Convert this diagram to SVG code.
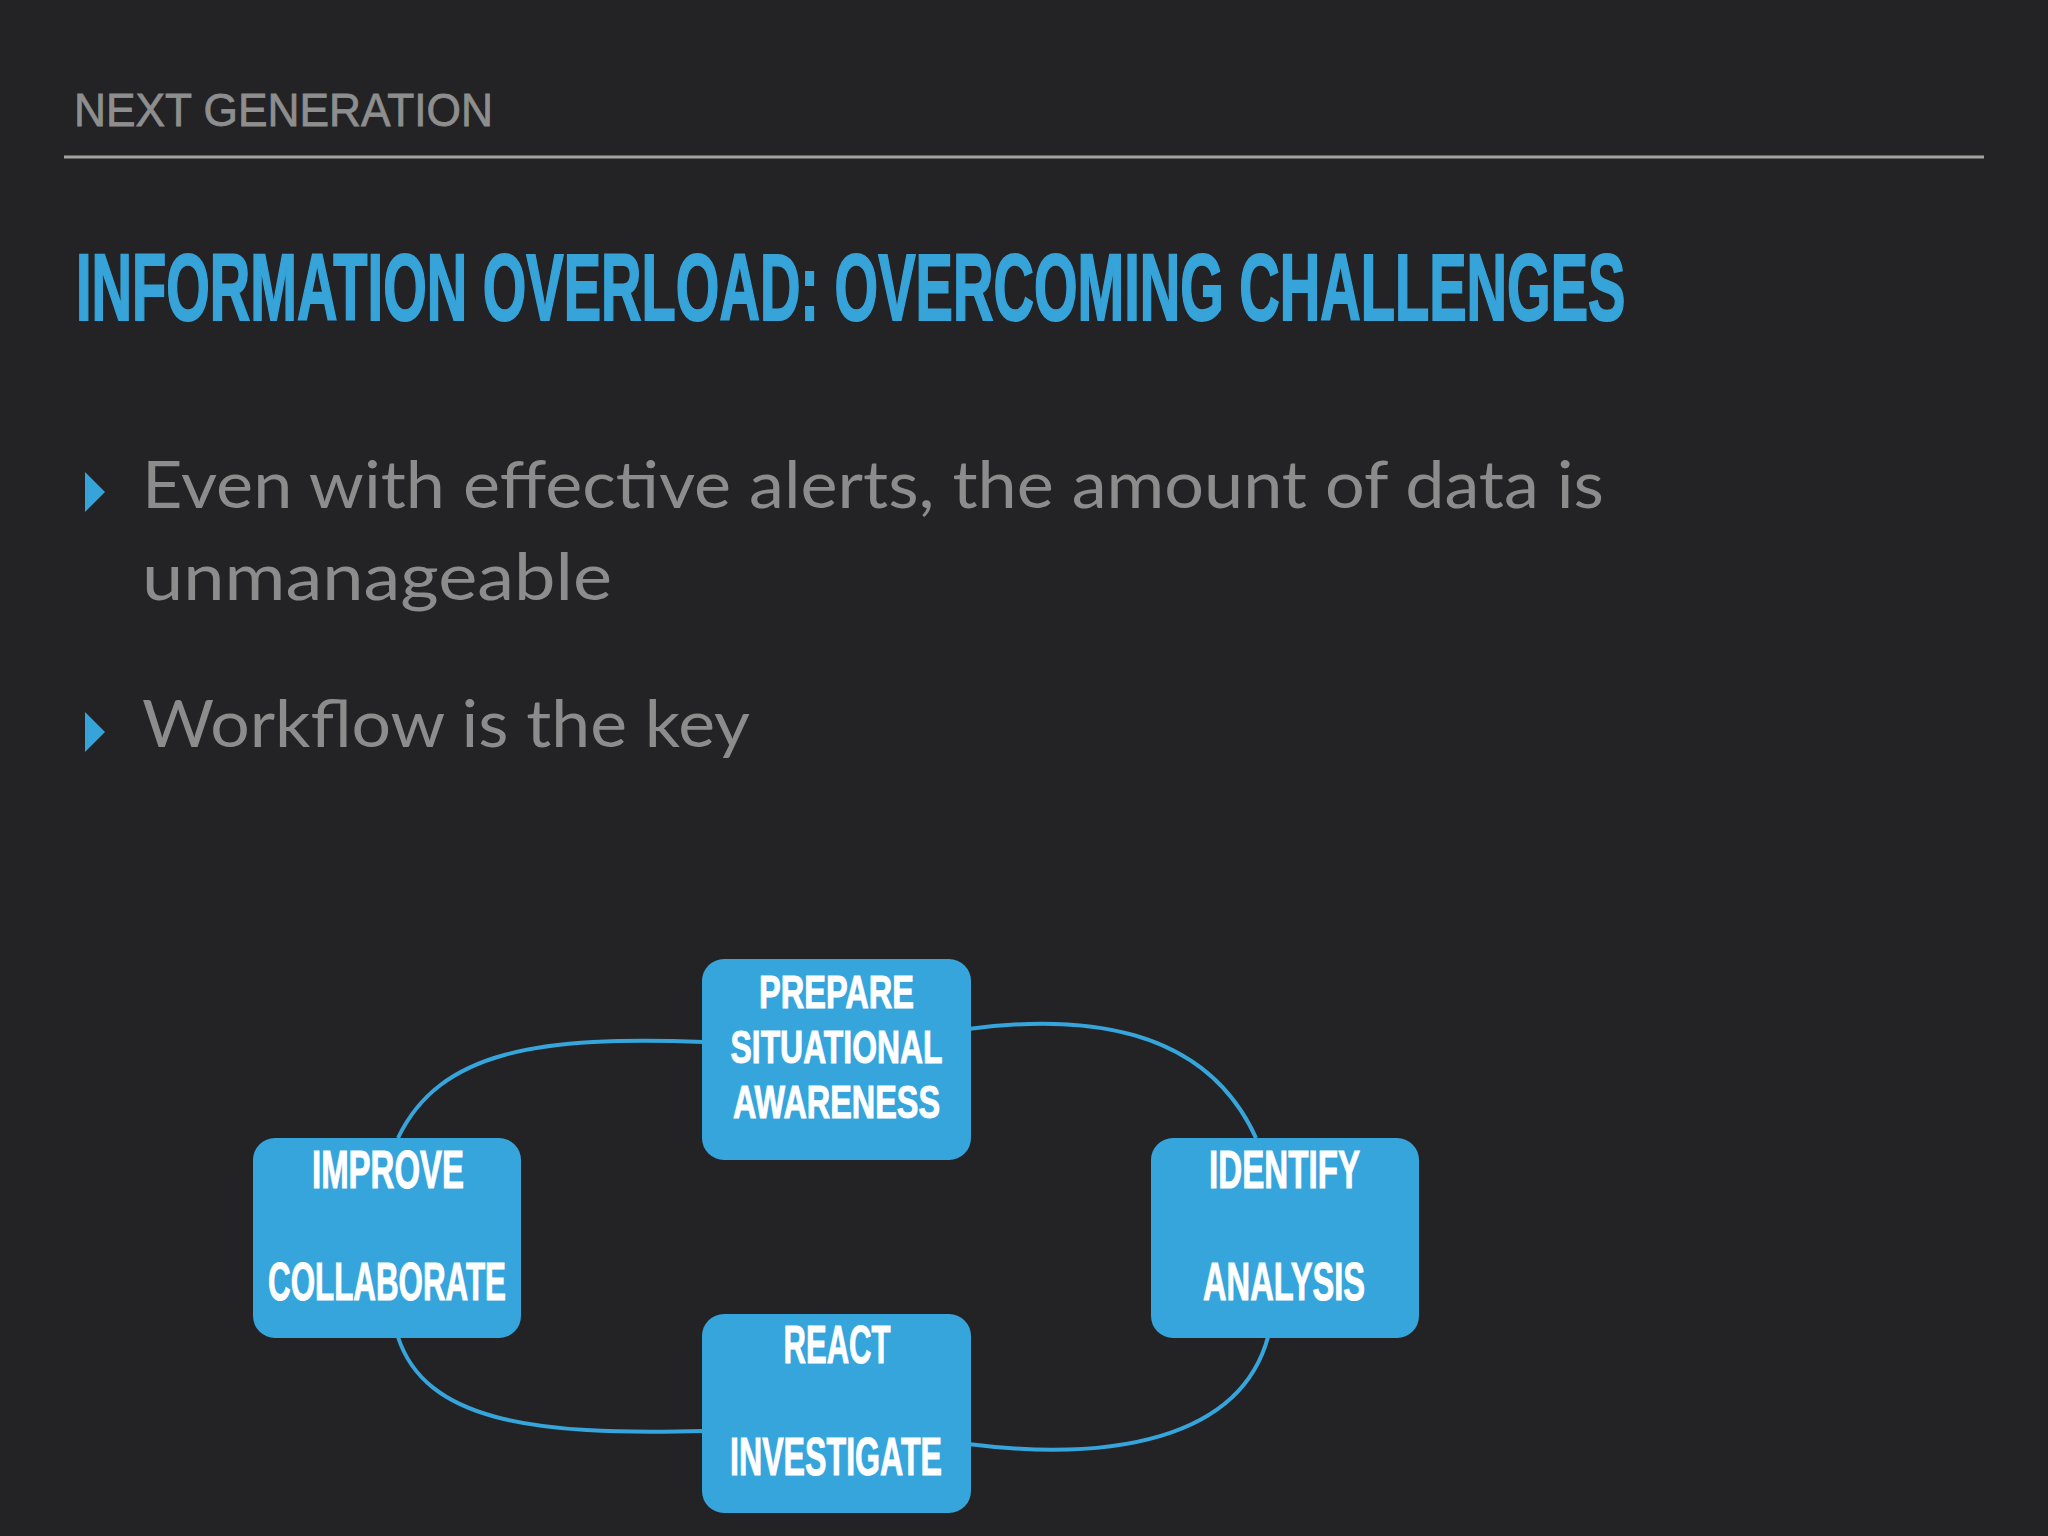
<svg xmlns="http://www.w3.org/2000/svg" width="2048" height="1536" viewBox="0 0 2048 1536">
<style>
.bg{fill:#232325}
.hdr{font-family:"Liberation Sans",Arial,sans-serif;font-size:46px;fill:#8e8e8e;stroke:#8e8e8e;stroke-width:0.8}
.rule{stroke:#a3a3a3;stroke-width:3}
.title{font-family:"Liberation Sans",Arial,sans-serif;font-weight:bold;font-size:95px;fill:#36a3d9;stroke:#36a3d9;stroke-width:2}
.body{font-family:Lato,"Open Sans",sans-serif;font-size:66px;fill:#8c8c8c}
.bullet{fill:#36a3d9}
.box{fill:#36a5dc}
.lbl{font-family:"Liberation Sans",Arial,sans-serif;font-weight:bold;fill:#ffffff;stroke:#ffffff;stroke-width:1;text-anchor:middle}
.s46{font-size:46px}
.s53{font-size:53px}
.conn{fill:none;stroke:#36a5dc;stroke-width:4}
</style>
<rect class="bg" x="0" y="0" width="2048" height="1536"/>
<g id="header">
<text class="hdr" x="74" y="126" textLength="419" lengthAdjust="spacingAndGlyphs">NEXT GENERATION</text>
<line class="rule" x1="64" y1="157" x2="1984" y2="157"/>
</g>
<g id="title">
<text class="title" transform="translate(76,320) scale(0.59,1)" x="0" y="0">INFORMATION OVERLOAD: OVERCOMING CHALLENGES</text>
</g>
<g id="bullets">
<polygon class="bullet" points="85,472 105,492 85,512"/>
<text class="body" x="142" y="508" textLength="1462" lengthAdjust="spacingAndGlyphs">Even with effective alerts, the amount of data is</text>
<text class="body" x="142" y="600" textLength="470" lengthAdjust="spacingAndGlyphs">unmanageable</text>
<polygon class="bullet" points="85,712 105,732 85,752"/>
<text class="body" x="142" y="747" textLength="608" lengthAdjust="spacingAndGlyphs">Workflow is the key</text>
</g>
<g id="connectors">
<path class="conn" d="M398,1138 C440,1050 540,1036 704,1042"/>
<path class="conn" d="M968,1029 C1080,1014 1205,1025 1256,1138"/>
<path class="conn" d="M398,1337 C425,1420 530,1436 704,1431"/>
<path class="conn" d="M968,1444 C1110,1462 1240,1440 1268,1337"/>
</g>
<g id="node-prepare">
<rect class="box" x="702" y="959" width="269" height="201" rx="22"/>
<text class="lbl s46" x="836.5" y="1008" textLength="155" lengthAdjust="spacingAndGlyphs">PREPARE</text>
<text class="lbl s46" x="836.5" y="1063" textLength="212" lengthAdjust="spacingAndGlyphs">SITUATIONAL</text>
<text class="lbl s46" x="836.5" y="1118" textLength="207" lengthAdjust="spacingAndGlyphs">AWARENESS</text>
</g>
<g id="node-improve">
<rect class="box" x="253" y="1138" width="268" height="200" rx="22"/>
<text class="lbl s53" x="388" y="1188" textLength="152" lengthAdjust="spacingAndGlyphs">IMPROVE</text>
<text class="lbl s53" x="387" y="1300" textLength="238" lengthAdjust="spacingAndGlyphs">COLLABORATE</text>
</g>
<g id="node-identify">
<rect class="box" x="1151" y="1138" width="268" height="200" rx="22"/>
<text class="lbl s53" x="1284.5" y="1188" textLength="151" lengthAdjust="spacingAndGlyphs">IDENTIFY</text>
<text class="lbl s53" x="1284" y="1300" textLength="162" lengthAdjust="spacingAndGlyphs">ANALYSIS</text>
</g>
<g id="node-react">
<rect class="box" x="702" y="1314" width="269" height="199" rx="22"/>
<text class="lbl s53" x="837" y="1363" textLength="107" lengthAdjust="spacingAndGlyphs">REACT</text>
<text class="lbl s53" x="836" y="1475" textLength="212" lengthAdjust="spacingAndGlyphs">INVESTIGATE</text>
</g>
</svg>
